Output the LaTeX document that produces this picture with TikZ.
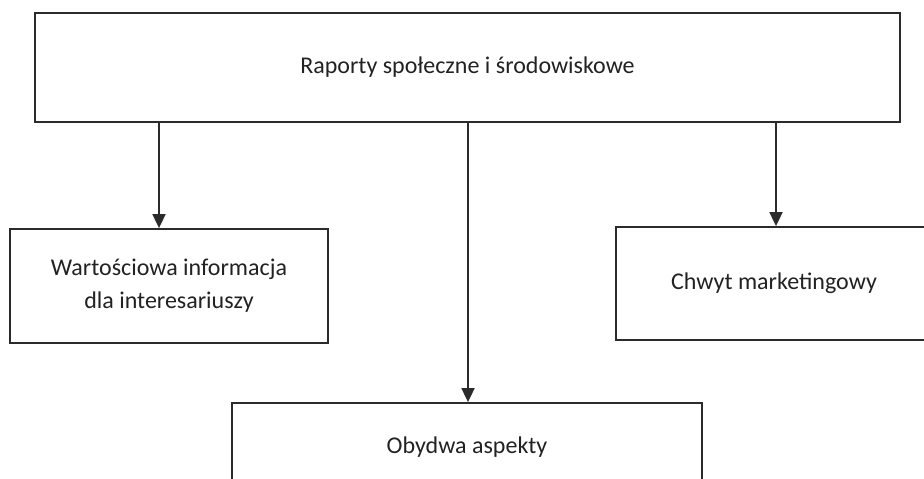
\documentclass[tikz,border=0pt]{standalone}
\usepackage{fontspec}
\setmainfont{Carlito}
\usetikzlibrary{arrows.meta}
\definecolor{ink}{HTML}{2B2B2B}
\definecolor{txt}{HTML}{222222}
\begin{document}
\begin{tikzpicture}[x=1pt,y=-1pt,
  box/.style={draw=ink,line width=1.8pt,fill=white,inner sep=0pt,font=\fontsize{24}{33}\selectfont,text=txt,align=center},
  arr/.style={draw=ink,line width=1.8pt,-{Triangle[width=13pt,length=14pt]}}]
\useasboundingbox (0,0) rectangle (924,479);
\clip (0,0) rectangle (924,479);
% boxes
\node[box,minimum width=865pt,minimum height=109pt] (top) at (467.5,67.5) {Raporty społeczne i środowiskowe};
\node[box,minimum width=318pt,minimum height=114pt] (left) at (169,286) {Wartościowa informacja\\dla interesariuszy};
\node[box,minimum width=316pt,minimum height=113pt] (right) at (774,283.5) {Chwyt marketingowy};
\node[box,minimum width=470pt,minimum height=88pt] (bottom) at (467,447) {Obydwa aspekty};
% arrow columns
\coordinate (c1) at (159,0);
\coordinate (c2) at (468,0);
\coordinate (c3) at (776,0);
\draw[arr] (top.south -| c1) -- (left.north -| c1);
\draw[arr] (top.south -| c2) -- (bottom.north -| c2);
\draw[arr] (top.south -| c3) -- (right.north -| c3);
\end{tikzpicture}
\end{document}
